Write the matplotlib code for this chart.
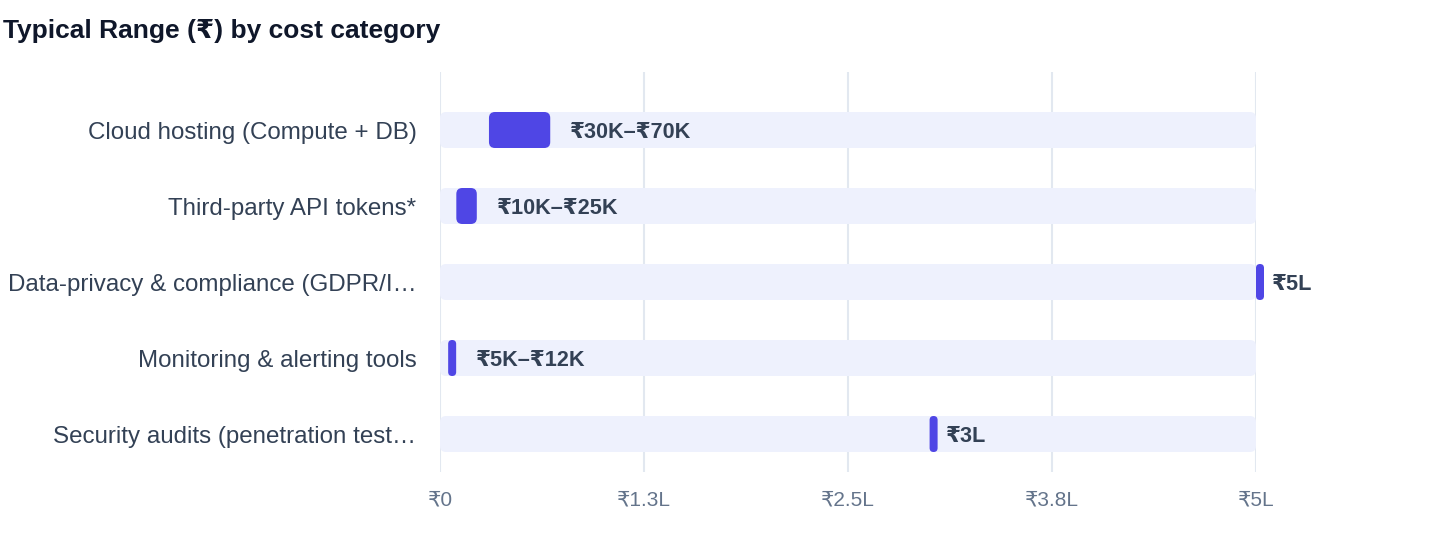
import matplotlib
matplotlib.use("Agg")
import matplotlib.pyplot as plt
from matplotlib.patches import FancyBboxPatch

# ---- data ----
categories = [
    "Cloud hosting (Compute + DB)",
    "Third-party API tokens*",
    "Data-privacy & compliance (GDPR/I…",
    "Monitoring & alerting tools",
    "Security audits (penetration test…",
]
low_values = [30000, 10000, 500000, 5000, 300000]
high_values = [70000, 25000, 500000, 12000, 300000]
value_labels = ["₹30K–₹70K", "₹10K–₹25K", "₹5L", "₹5K–₹12K", "₹3L"]
x_ticks = [0, 125000, 250000, 375000, 500000]
x_tick_labels = ["₹0", "₹1.3L", "₹2.5L", "₹3.8L", "₹5L"]
x_max = 500000
title = "Typical Range (₹) by cost category"

FONT = ["Liberation Sans", "DejaVu Sans"]
plt.rcParams["font.family"] = FONT

W, H = 1440, 560
fig = plt.figure(figsize=(W / 100, H / 100), dpi=100)
ax_left, ax_right, ax_top, ax_bottom = 440, 1256, 72, 472
ax = fig.add_axes([ax_left / W, 1 - ax_bottom / H,
                   (ax_right - ax_left) / W, (ax_bottom - ax_top) / H])

row_px = 76
ax.set_xlim(0, x_max)
ax.set_ylim(len(categories) - 0.5, -58 / row_px)

px_x = x_max / (ax_right - ax_left)
px_y = 1 / row_px
bar_h = 36 * px_y
aspect = px_y / px_x
radius = 6 * px_x

track_color = "#EEF1FD"
bar_color = "#4F46E5"

for t in x_ticks:
    ax.axvline(t, color="#E2E8F0", linewidth=1.5, zorder=0)

for i, (lo, hi, lab) in enumerate(zip(low_values, high_values, value_labels)):
    track = FancyBboxPatch((0, i - bar_h / 2), x_max, bar_h,
                           boxstyle=f"round,pad=0,rounding_size={radius}",
                           mutation_aspect=aspect, fc=track_color, ec="none",
                           zorder=1, clip_on=False)
    ax.add_patch(track)
    w = max(hi - lo - 4 * px_x, 8 * px_x)
    rr = min(radius, w / 2)
    bar = FancyBboxPatch((lo, i - bar_h / 2), w, bar_h,
                         boxstyle=f"round,pad=0,rounding_size={rr}",
                         mutation_aspect=aspect, fc=bar_color, ec="none",
                         zorder=2, clip_on=False)
    ax.add_patch(bar)
    ax.text(hi + 16 * px_x, i, lab, ha="left", va="center_baseline",
            fontsize=15.6, fontweight="bold", color="#334155",
            zorder=3, clip_on=False)

ax.set_xticks(x_ticks)
ax.set_xticklabels(x_tick_labels)
ax.set_yticks(range(len(categories)))
ax.set_yticklabels(categories)
ax.grid(False)
for s in ax.spines.values():
    s.set_visible(False)
ax.tick_params(axis="x", length=0, pad=13, labelsize=15, labelcolor="#64748B")
ax.tick_params(axis="y", length=0, pad=17, labelsize=17.4, labelcolor="#334155")

fig.text(3 / W, 1 - 31 / H, title, ha="left", va="center",
         fontsize=19, fontweight="bold", color="#0F172A")

fig.savefig("out.png", dpi=100, facecolor="white")
